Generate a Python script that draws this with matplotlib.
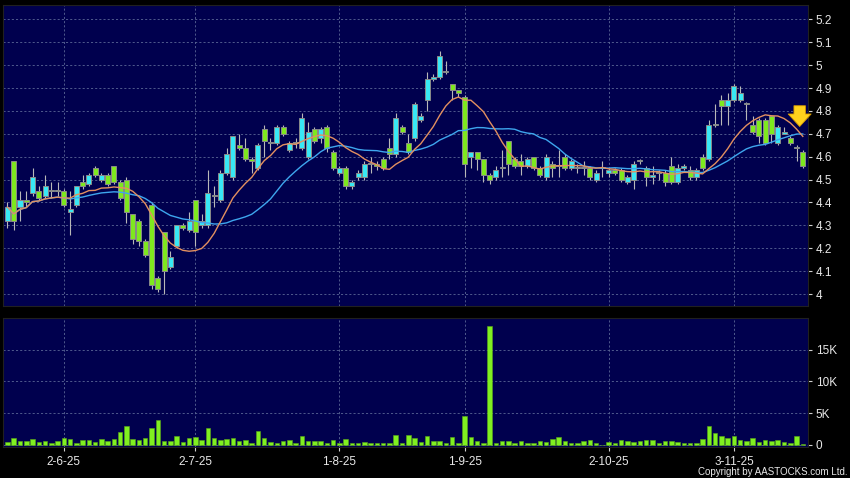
import numpy as np
import pandas as pd
import matplotlib
matplotlib.use("Agg")
import matplotlib.pyplot as plt

plt.rcParams['font.family'] = ['Liberation Sans Narrow', 'Liberation Sans', 'DejaVu Sans']

# daily candles (oldest first)
opens = [4.32, 4.58, 4.38, 4.41, 4.44, 4.45, 4.43, 4.45, 4.45, 4.45,
         4.36, 4.39, 4.49, 4.48, 4.55, 4.50, 4.52, 4.56, 4.49, 4.50,
         4.35, 4.32, 4.23, 4.39, 4.07, 4.27, 4.12, 4.21, 4.30, 4.28,
         4.41, 4.30, 4.30, 4.43, 4.41, 4.53, 4.51, 4.65, 4.64, 4.59,
         4.55, 4.72, 4.66, 4.66, 4.73, 4.63, 4.66, 4.64, 4.60, 4.72,
         4.68, 4.73, 4.62, 4.53, 4.55, 4.47, 4.51, 4.51, 4.57, 4.57,
         4.59, 4.64, 4.61, 4.73, 4.66, 4.68, 4.76, 4.85, 4.94, 4.95,
         4.97, 4.92, 4.89, 4.86, 4.60, 4.62, 4.59, 4.52, 4.51, 4.55,
         4.67, 4.59, 4.58, 4.56, 4.60, 4.55, 4.51, 4.57, 4.56, 4.60,
         4.55, 4.55, 4.55, 4.55, 4.50, 4.55, 4.53, 4.54, 4.54, 4.49,
         4.50, 4.58, 4.55, 4.51, 4.53, 4.53, 4.56, 4.49, 4.55, 4.54,
         4.51, 4.60, 4.59, 4.74, 4.85, 4.82, 4.85, 4.85, 4.83, 4.74,
         4.76, 4.76, 4.78, 4.66, 4.70, 4.68, 4.64, 4.62]
highs = [4.40, 4.58, 4.45, 4.45, 4.55, 4.47, 4.52, 4.49, 4.49, 4.46,
         4.45, 4.47, 4.52, 4.53, 4.56, 4.53, 4.53, 4.56, 4.50, 4.51,
         4.35, 4.33, 4.24, 4.40, 4.08, 4.27, 4.19, 4.30, 4.31, 4.36,
         4.41, 4.35, 4.54, 4.47, 4.54, 4.64, 4.69, 4.70, 4.68, 4.60,
         4.66, 4.74, 4.68, 4.74, 4.74, 4.67, 4.68, 4.79, 4.75, 4.73,
         4.73, 4.74, 4.63, 4.56, 4.56, 4.50, 4.54, 4.58, 4.60, 4.58,
         4.60, 4.68, 4.79, 4.74, 4.70, 4.84, 4.79, 4.97, 4.96, 5.06,
         5.02, 4.92, 4.89, 4.87, 4.62, 4.62, 4.59, 4.53, 4.56, 4.63,
         4.67, 4.60, 4.61, 4.60, 4.60, 4.56, 4.61, 4.58, 4.63, 4.61,
         4.59, 4.57, 4.58, 4.56, 4.54, 4.58, 4.55, 4.55, 4.55, 4.52,
         4.58, 4.59, 4.56, 4.56, 4.54, 4.54, 4.60, 4.57, 4.57, 4.56,
         4.55, 4.61, 4.76, 4.83, 4.87, 4.88, 4.92, 4.91, 4.84, 4.78,
         4.77, 4.77, 4.78, 4.74, 4.73, 4.69, 4.65, 4.63]
lows = [4.29, 4.28, 4.32, 4.38, 4.43, 4.41, 4.42, 4.42, 4.43, 4.38,
        4.26, 4.38, 4.46, 4.47, 4.51, 4.49, 4.47, 4.48, 4.41, 4.31,
        4.22, 4.21, 4.16, 4.02, 4.01, 4.00, 4.11, 4.20, 4.28, 4.27,
        4.21, 4.29, 4.29, 4.38, 4.40, 4.52, 4.50, 4.63, 4.58, 4.53,
        4.54, 4.60, 4.63, 4.65, 4.69, 4.62, 4.64, 4.63, 4.59, 4.66,
        4.66, 4.62, 4.54, 4.52, 4.46, 4.46, 4.50, 4.50, 4.53, 4.54,
        4.54, 4.59, 4.60, 4.70, 4.61, 4.67, 4.75, 4.80, 4.93, 4.94,
        4.96, 4.85, 4.86, 4.51, 4.55, 4.54, 4.49, 4.48, 4.50, 4.51,
        4.52, 4.55, 4.52, 4.55, 4.54, 4.51, 4.50, 4.51, 4.51, 4.54,
        4.54, 4.53, 4.52, 4.50, 4.49, 4.51, 4.51, 4.52, 4.49, 4.48,
        4.46, 4.57, 4.47, 4.48, 4.50, 4.47, 4.48, 4.48, 4.54, 4.50,
        4.50, 4.54, 4.58, 4.73, 4.74, 4.74, 4.84, 4.84, 4.76, 4.70,
        4.66, 4.65, 4.66, 4.65, 4.70, 4.65, 4.58, 4.55]
closes = [4.38, 4.32, 4.41, 4.40, 4.51, 4.42, 4.47, 4.45, 4.45, 4.39,
          4.37, 4.47, 4.47, 4.52, 4.52, 4.52, 4.48, 4.49, 4.42, 4.36,
          4.24, 4.23, 4.17, 4.04, 4.02, 4.10, 4.16, 4.30, 4.29, 4.32,
          4.27, 4.32, 4.44, 4.43, 4.53, 4.61, 4.69, 4.64, 4.59, 4.58,
          4.65, 4.67, 4.66, 4.73, 4.70, 4.66, 4.66, 4.77, 4.71, 4.67,
          4.72, 4.64, 4.55, 4.55, 4.47, 4.49, 4.53, 4.57, 4.57, 4.56,
          4.55, 4.61, 4.77, 4.71, 4.62, 4.83, 4.78, 4.94, 4.95, 5.04,
          4.97, 4.89, 4.88, 4.57, 4.62, 4.59, 4.52, 4.50, 4.54, 4.55,
          4.57, 4.56, 4.56, 4.59, 4.55, 4.52, 4.60, 4.55, 4.56, 4.55,
          4.58, 4.55, 4.55, 4.51, 4.53, 4.55, 4.54, 4.53, 4.50, 4.51,
          4.57, 4.585, 4.51, 4.52, 4.53, 4.49, 4.49, 4.55, 4.56, 4.51,
          4.54, 4.55, 4.74, 4.74, 4.82, 4.85, 4.91, 4.88, 4.83, 4.71,
          4.69, 4.66, 4.70, 4.73, 4.71, 4.66, 4.64, 4.56]
# volume in thousands
volumes = [0.4, 1.0, 0.5, 0.6, 0.9, 0.4, 0.6, 0.3, 0.6, 1.0,
           0.9, 0.2, 0.7, 0.7, 0.4, 0.9, 0.5, 0.9, 2.0, 2.9,
           0.9, 0.7, 1.0, 2.6, 3.9, 0.5, 0.5, 1.4, 0.4, 1.1,
           1.2, 0.8, 2.6, 1.0, 0.7, 0.9, 1.0, 0.5, 0.7, 0.2,
           2.2, 1.1, 0.4, 0.3, 0.5, 0.7, 0.3, 1.4, 0.6, 0.6,
           0.6, 0.2, 0.8, 0.2, 0.9, 0.3, 0.2, 0.4, 0.3, 0.3,
           0.2, 0.3, 1.5, 0.2, 1.5, 1.1, 0.4, 1.3, 0.6, 0.6,
           0.2, 1.2, 0.2, 4.5, 1.2, 0.6, 0.2, 18.8, 0.3, 0.6,
           0.6, 0.2, 0.6, 0.3, 0.2, 0.6, 0.4, 0.9, 1.2, 0.6,
           0.3, 0.3, 0.5, 0.8, 0.2, 0.0, 0.4, 0.2, 0.7, 0.5,
           0.4, 0.5, 0.7, 0.8, 0.3, 0.5, 0.5, 0.4, 0.3, 0.2,
           0.3, 0.9, 2.9, 1.8, 1.3, 1.1, 1.3, 0.7, 0.6, 1.1,
           0.4, 0.8, 0.6, 0.7, 0.4, 0.2, 1.3, 0.1]

date_labels = ['2-6-25', '2-7-25', '1-8-25', '1-9-25', '2-10-25', '3-11-25']
date_index = [9, 30, 53, 73, 96, 116]
price_ticks = [4.0, 4.1, 4.2, 4.3, 4.4, 4.5, 4.6, 4.7, 4.8, 4.9, 5.0, 5.1, 5.2]
vol_ticks = [0, 5, 10, 15]
vol_tick_labels = ['0', '5K', '10K', '15K']

BG = '#00004e'
GRID = '#5b6796'
UP = '#38e8f5'
DOWN = '#7ee81e'
TXT = '#e8e8e8'

df = pd.DataFrame({'open': opens, 'high': highs, 'low': lows,
                   'close': closes, 'vol': volumes})
x = np.arange(len(df))
ma10 = df['close'].rolling(10, min_periods=1).mean()
ma20 = df['close'].rolling(20, min_periods=1).mean()

fig = plt.figure(figsize=(8.5, 4.78), dpi=100, facecolor='black')
ax = fig.add_axes([0.004, 0.36, 0.946, 0.629])
axv = fig.add_axes([0.004, 0.064, 0.946, 0.27])

for a in (ax, axv):
    a.set_facecolor(BG)
    for s in a.spines.values():
        s.set_color('#202020')
    a.yaxis.tick_right()
    a.tick_params(axis='y', colors='#cfcfcf', labelcolor=TXT, labelsize=8.5,
                  length=3, direction='out', pad=3)
    a.set_xticks(date_index)
    a.grid(True, color=GRID, linestyle=(0, (2.5, 2.5)), linewidth=0.6)
    a.set_axisbelow(True)
    a.set_xlim(-0.65, len(df) - 0.25)

# candles
up = df['close'] >= df['open']
colors = np.where(up, UP, DOWN)
body_lo = np.minimum(df['open'], df['close'])
body_h = np.maximum(np.abs(df['close'] - df['open']), 0.004)
ax.vlines(x, df['low'], df['high'], color='#b8b8b8', linewidth=0.8, zorder=2)
ax.bar(x, body_h, bottom=body_lo, width=0.8, color=colors,
       edgecolor='#8a8a8a', linewidth=0.7, zorder=3)

ax.plot(x, ma20, color='#3ea6ee', linewidth=1.0, zorder=4)
ax.plot(x, ma10, color='#e39060', linewidth=1.0, zorder=4)

# latest-day marker arrow
ax.annotate('', xy=(x[-1] - 0.5, 4.72), xytext=(x[-1] - 0.5, 4.835),
            arrowprops=dict(arrowstyle='simple,head_length=0.6,head_width=1.1,tail_width=0.55',
                            fc='#ffd21c', ec='#d89a00', lw=0.6, mutation_scale=15),
            zorder=6)

ax.set_ylim(3.948, 5.262)
ax.set_yticks(price_ticks)
ax.set_yticklabels(['%g' % t for t in price_ticks])
ax.tick_params(axis='x', length=0, labelbottom=False)

# volume bars
axv.bar(x, df['vol'], width=0.72, color='#80f020', edgecolor='#5aa818',
        linewidth=0.4, zorder=3)
axv.set_ylim(-0.45, 20.0)
axv.set_yticks(vol_ticks)
axv.set_yticklabels(vol_tick_labels)
axv.set_xticklabels(date_labels)
axv.tick_params(axis='x', colors='#cfcfcf', labelcolor=TXT, labelsize=8.5,
                length=3, direction='out', pad=3)

fig.text(0.997, 0.003, 'Copyright by AASTOCKS.com Ltd.', color=TXT,
         fontsize=7, ha='right', va='bottom')

fig.savefig('out.png', dpi=100, facecolor='black')
